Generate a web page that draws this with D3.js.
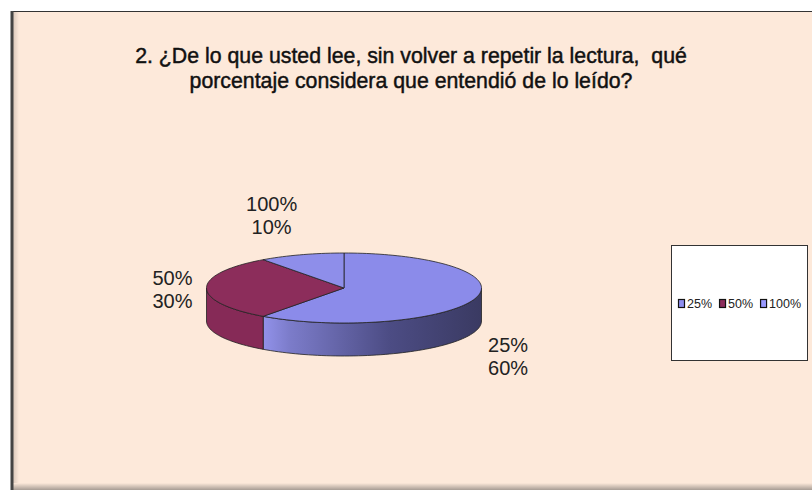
<!DOCTYPE html>
<html>
<head>
<meta charset='utf-8'>
<script src='https://cdn.jsdelivr.net/npm/d3@7'></script>
<style>
body { margin: 0; background: #fff; }
text { font-family: 'Liberation Sans', Arial, sans-serif; }
</style>
</head>
<body>
<div id='chart'></div>
<script>
// data
var categories = ['25%', '50%', '100%'];
var values = [60, 30, 10];
var valueLabels = ['60%', '30%', '10%'];
var titleLines = ['2. ¿De lo que usted lee, sin volver a repetir la lectura,  qué',
  'porcentaje considera que entendió de lo leído?'];

var W = 812, H = 490;
var topColors = ['#8b8bea', '#8c2d5b', '#8e8eea'];
var wallColors = ['url(#wallBlue)', '#862a57', '#5a5a9a'];
var legendColors = ['#8f8ff0', '#8c2d5b', '#9a9aff'];

var svg = d3.select('#chart').append('svg')
  .attr('width', W).attr('height', H);

var defs = svg.append('defs');
var g1 = defs.append('linearGradient').attr('id', 'wallBlue')
  .attr('gradientUnits', 'userSpaceOnUse');
g1.selectAll('stop')
  .data([[0, '#9292ea'], [0.12, '#7c7cca'], [0.58, '#4c4c84'], [1, '#3a3a62']])
  .enter().append('stop')
  .attr('offset', function(d) { return d[0]; })
  .attr('stop-color', function(d) { return d[1]; });

var sh = defs.append('linearGradient').attr('id', 'leftShade');
sh.append('stop').attr('offset', 0).attr('stop-color', '#cdbcb0');
sh.append('stop').attr('offset', 1).attr('stop-color', '#fde9da');
var shb = defs.append('linearGradient').attr('id', 'botShade')
  .attr('x1', 0).attr('x2', 0).attr('y1', 0).attr('y2', 1);
shb.append('stop').attr('offset', 0).attr('stop-color', '#fde9da');
shb.append('stop').attr('offset', 1).attr('stop-color', '#a79c94');

// chart area
var area = {x: 11, y: 11};
svg.append('rect').attr('x', area.x).attr('y', area.y)
  .attr('width', W - area.x).attr('height', H - area.y)
  .attr('fill', '#fde9da');
svg.append('rect').attr('x', area.x).attr('y', area.y)
  .attr('width', 8).attr('height', H - area.y)
  .attr('fill', 'url(#leftShade)');
svg.append('rect').attr('x', area.x).attr('y', H - 7)
  .attr('width', W - area.x).attr('height', 7)
  .attr('fill', 'url(#botShade)');
svg.append('line').attr('x1', area.x).attr('x2', W)
  .attr('y1', area.y + 0.5).attr('y2', area.y + 0.5)
  .attr('stroke', '#333').attr('stroke-width', 1);
svg.append('line').attr('x1', area.x + 1).attr('x2', area.x + 1)
  .attr('y1', area.y).attr('y2', H)
  .attr('stroke', '#444').attr('stroke-width', 3);

// title
svg.append('g').selectAll('text')
  .data(titleLines).enter().append('text')
  .attr('x', 411)
  .attr('y', function(d, i) { return 63 + i * 25; })
  .attr('text-anchor', 'middle')
  .attr('font-size', 21.3)
  .attr('fill', '#111')
  .attr('stroke', '#111')
  .attr('stroke-width', 0.45)
  .style('white-space', 'pre')
  .text(function(d) { return d; });

// 3d pie
var cx = 344, cy = 288, rx = 137.5, ry = 35, depth = 33;
var pie = d3.pie().sort(null).value(function(d) { return d; });
var arcs = pie(values);

function pt(a, dy) {
  return [cx + rx * Math.sin(a), cy - ry * Math.cos(a) + (dy || 0)];
}
function topPath(a0, a1) {
  var n = Math.max(2, Math.ceil((a1 - a0) * 30));
  var pts = [[cx, cy]];
  for (var i = 0; i <= n; i++) pts.push(pt(a0 + (a1 - a0) * i / n));
  return 'M' + pts.join('L') + 'Z';
}
function wallPath(a0, a1) {
  var n = Math.max(2, Math.ceil((a1 - a0) * 30));
  var up = [], down = [];
  for (var i = 0; i <= n; i++) {
    var a = a0 + (a1 - a0) * i / n;
    up.push(pt(a));
    down.push(pt(a, depth));
  }
  return 'M' + up.concat(down.reverse()).join('L') + 'Z';
}

var pieG = svg.append('g');
arcs.forEach(function(d, i) {
  var a0 = Math.max(d.startAngle, Math.PI / 2);
  var a1 = Math.min(d.endAngle, Math.PI * 1.5);
  if (a1 <= a0) return;
  if (i === 0) {
    var xs = [pt(a0)[0], pt(a1)[0], pt(Math.PI / 2)[0]];
    g1.attr('x1', d3.min(xs)).attr('x2', d3.max(xs)).attr('y1', 0).attr('y2', 0);
  }
  pieG.append('path').attr('d', wallPath(a0, a1))
    .attr('fill', wallColors[i])
    .attr('stroke', '#222').attr('stroke-width', 0.8)
    .attr('stroke-linejoin', 'round');
});
arcs.forEach(function(d, i) {
  pieG.append('path').attr('d', topPath(d.startAngle, d.endAngle))
    .attr('fill', topColors[i])
    .attr('stroke', '#222').attr('stroke-width', 0.8)
    .attr('stroke-linejoin', 'round');
});

// data labels
var pad = 14;
arcs.forEach(function(d, i) {
  var a = (d.startAngle + d.endAngle) / 2;
  var s = Math.sin(a), c = Math.cos(a);
  var ax = cx + (rx + pad) * s;
  var ay = cy - (ry + pad) * c + (c < 0 ? depth : 0);
  var t = svg.append('text')
    .attr('text-anchor', 'middle')
    .attr('font-size', 20)
    .attr('fill', '#222');
  var lines = [categories[i], valueLabels[i]];
  t.selectAll('tspan').data(lines).enter().append('tspan')
    .text(function(l) { return l; });
  var w = d3.max(t.selectAll('tspan').nodes(), function(n) { return n.getComputedTextLength(); });
  var h = 46;
  var bx = ax + (s > 0.2 ? w / 2 : s < -0.2 ? -w / 2 : 0);
  var by = c > 0.2 ? ay - h : c < -0.2 ? ay : ay - h / 2 + 4;
  t.selectAll('tspan')
    .attr('x', bx)
    .attr('y', function(l, j) { return by + 16 + j * 23; });
});

// legend
var lg = svg.append('g');
lg.append('rect').attr('x', 671.5).attr('y', 245.5)
  .attr('width', 136).attr('height', 115)
  .attr('fill', '#fff').attr('stroke', '#333').attr('stroke-width', 1);
var lx = 678;
categories.forEach(function(cat, i) {
  lg.append('rect').attr('x', lx + 0.5).attr('y', 299.5)
    .attr('width', 6).attr('height', 8)
    .attr('fill', legendColors[i]).attr('stroke', '#111').attr('stroke-width', 1.2);
  var t = lg.append('text').attr('x', lx + 9).attr('y', 308)
    .attr('font-size', 12.5).attr('fill', '#222').text(cat);
  lx += 9 + t.node().getComputedTextLength() + 7;
});
</script>
</body>
</html>
